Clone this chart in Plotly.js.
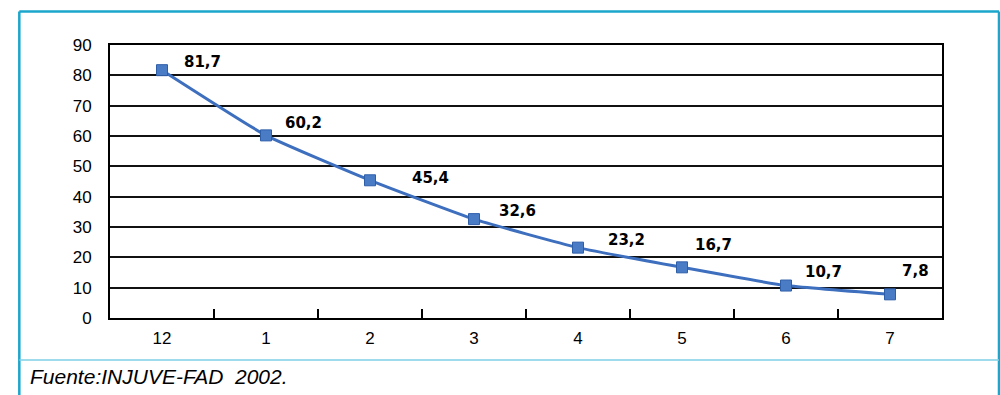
<!DOCTYPE html>
<html>
<head>
<meta charset="utf-8">
<script src="https://cdn.plot.ly/plotly-3.0.1.min.js"></script>
<style>
  html, body { margin: 0; padding: 0; background: #ffffff; }
  #chart { width: 1000px; height: 395px; }
</style>
</head>
<body>
<div id="chart"></div>
<script>
// Age categories along the x axis
const categories = ['12', '1', '2', '3', '4', '5', '6', '7'];
// Percentage values for each category
const values = [81.7, 60.2, 45.4, 32.6, 23.2, 16.7, 10.7, 7.8];
// Printed value labels (Spanish decimal comma)
const valueLabels = ['81,7', '60,2', '45,4', '32,6', '23,2', '16,7', '10,7', '7,8'];
// Y axis ticks
const yTicks = [0, 10, 20, 30, 40, 50, 60, 70, 80, 90];

// Pixel offsets of each value label relative to its point
const labelShiftX = [40, 37, 60, 43, 48, 31, 37, 25];
const labelShiftY = [8, 12, 2, 8, 8, 22, 14, 23];

const frameColor = '#1ba6cc';

const trace = {
  type: 'scatter',
  mode: 'lines+markers',
  x: categories,
  y: values,
  line: { color: '#3d6fbe', width: 3, shape: 'spline', smoothing: 0.4 },
  marker: { symbol: 'square', size: 11, color: '#4a7cc6', line: { color: '#2f5ea9', width: 1 } },
  hoverinfo: 'skip',
  cliponaxis: false
};

// Value labels are placed by category index so "12" is not read as a number
const annotations = values.map((v, i) => ({
  x: i,
  y: v,
  xref: 'x',
  yref: 'y',
  text: '<b>' + valueLabels[i] + '</b>',
  showarrow: false,
  xshift: labelShiftX[i],
  yshift: labelShiftY[i],
  font: { family: 'DejaVu Sans', size: 15, color: '#000000' }
}));

annotations.push({
  xref: 'paper', yref: 'paper',
  x: 0, y: 0,
  xshift: -82, yshift: -58,
  xanchor: 'left', yanchor: 'middle',
  text: '<i>Fuente:INJUVE-FAD  2002.</i>',
  showarrow: false,
  font: { family: 'Liberation Sans', size: 21, color: '#000000' }
});

const shapes = [
  // outer frame
  { type: 'line', xref: 'paper', yref: 'paper', x0: -0.109, x1: 1.0685, y0: 1.123, y1: 1.123,
    line: { color: frameColor, width: 2.5 } },
  { type: 'line', xref: 'paper', yref: 'paper', x0: -0.109, x1: -0.109, y0: 1.123, y1: -0.30,
    line: { color: frameColor, width: 2.5 } },
  { type: 'line', xref: 'paper', yref: 'paper', x0: 1.0685, x1: 1.0685, y0: 1.123, y1: -0.30,
    line: { color: frameColor, width: 2.5 } },
  // separator above the source note
  { type: 'line', xref: 'paper', yref: 'paper', x0: -0.109, x1: 1.0685, y0: -0.154, y1: -0.154,
    line: { color: '#7fd0e4', width: 1.5 } }
];

const layout = {
  width: 1000,
  height: 395,
  margin: { l: 110, r: 58, t: 45, b: 77, pad: 0 },
  paper_bgcolor: '#ffffff',
  plot_bgcolor: '#ffffff',
  showlegend: false,
  xaxis: {
    type: 'category',
    range: [-0.5, 7.5],
    tickson: 'boundaries',
    ticks: 'inside',
    ticklen: 9,
    tickwidth: 2,
    tickcolor: '#000000',
    showgrid: false,
    showline: true,
    linecolor: '#000000',
    linewidth: 2,
    mirror: true,
    zeroline: false,
    ticklabelstandoff: 4,
    tickfont: { family: 'Liberation Sans', size: 17, color: '#000000' },
    fixedrange: true
  },
  yaxis: {
    range: [0, 90],
    tickvals: yTicks,
    ticktext: yTicks.map(String),
    ticks: '',
    showgrid: true,
    gridcolor: '#111111',
    gridwidth: 2,
    showline: true,
    linecolor: '#000000',
    linewidth: 2,
    mirror: true,
    zeroline: false,
    ticklabelstandoff: 13,
    tickfont: { family: 'Liberation Sans', size: 17, color: '#000000' },
    fixedrange: true
  },
  annotations: annotations,
  shapes: shapes
};

Plotly.newPlot('chart', [trace], layout, { staticPlot: true, displayModeBar: false });
</script>
</body>
</html>
